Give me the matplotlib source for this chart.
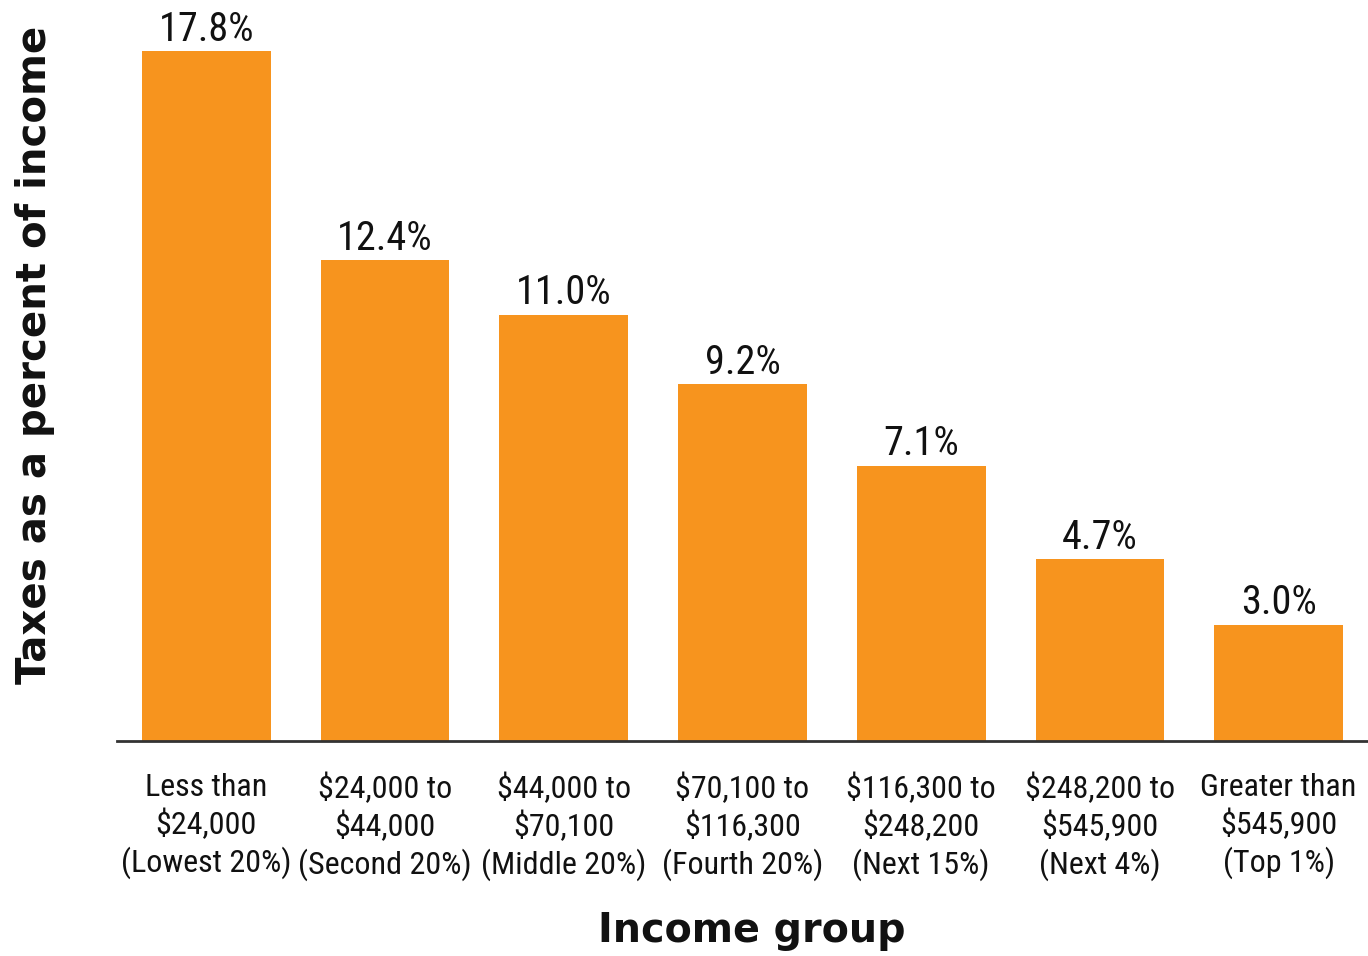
import matplotlib
matplotlib.use("Agg")
import matplotlib.pyplot as plt
from matplotlib import font_manager

names = {f.name for f in font_manager.fontManager.ttflist}
cond = next((n for n in ['Roboto Condensed', 'Barlow Semi Condensed', 'IBM Plex Sans Condensed',
                         'Open Sans Condensed', 'DejaVu Sans'] if n in names), 'DejaVu Sans')
plt.rcParams['font.family'] = [cond, 'DejaVu Sans']

categories = ["Less than\n$24,000\n(Lowest 20%)", "$24,000 to\n$44,000\n(Second 20%)",
              "$44,000 to\n$70,100\n(Middle 20%)", "$70,100 to\n$116,300\n(Fourth 20%)",
              "$116,300 to\n$248,200\n(Next 15%)", "$248,200 to\n$545,900\n(Next 4%)",
              "Greater than\n$545,900\n(Top 1%)"]
values = [17.8, 12.4, 11.0, 9.2, 7.1, 4.7, 3.0]
value_labels = ["17.8%", "12.4%", "11.0%", "9.2%", "7.1%", "4.7%", "3.0%"]

fig = plt.figure(figsize=(13.68, 9.56), dpi=100)
ax = fig.add_axes([117/1368, (956-741)/956, (1368-117)/1368, 741/956])
x = list(range(len(values)))
ax.bar(x, values, width=0.72, color='#F7941E', zorder=2)
for xi, v, lab in zip(x, values, value_labels):
    ax.text(xi, v + 0.06, lab, ha='center', va='bottom', fontsize=29, color='#111111')
ax.set_xlim(-0.5, 6.5)
ax.set_ylim(0, 741/38.76)
for s in ['top', 'right', 'left']:
    ax.spines[s].set_visible(False)
ax.spines['bottom'].set_linewidth(2)
ax.spines['bottom'].set_color('#333333')
ax.set_yticks([])
ax.set_xticks(x)
ax.set_xticklabels(categories, fontsize=23, linespacing=1.26, color='#111111')
ax.tick_params(axis='x', length=0, pad=23)
ax.set_xlabel("Income group", fontsize=28.5, fontweight='bold', labelpad=21, color='#111111',
              family='DejaVu Sans')
ax.xaxis.label.set_x(0.507)
fig.text(35/1368, 1 - 355/956, "Taxes as a percent of income", rotation=90, ha='center', va='center',
         fontsize=29, fontweight='bold', color='#111111', family='DejaVu Sans')
fig.savefig("out.png", dpi=100)
